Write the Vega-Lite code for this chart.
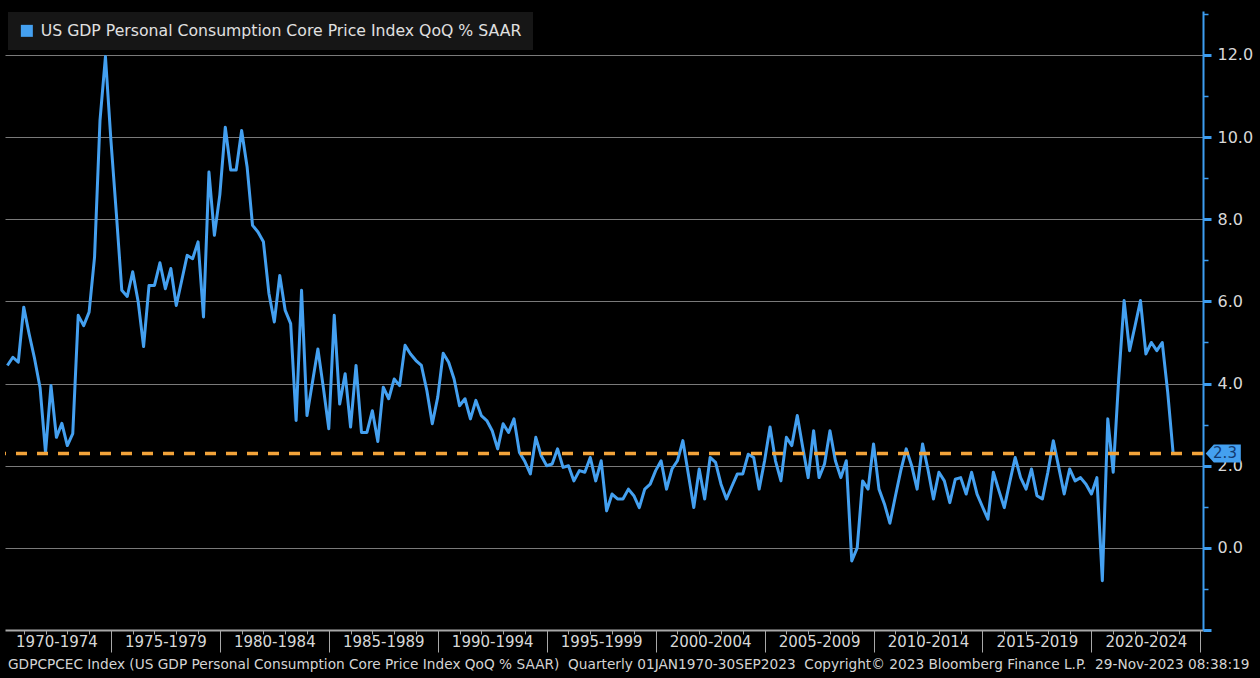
{
  "$schema": "https://vega.github.io/schema/vega-lite/v6.json",
  "width": 1198,
  "height": 619,
  "autosize": {"type": "none"},
  "padding": {"left": 5, "top": 11, "right": 57, "bottom": 48},
  "background": "#000000",
  "config": {"view": {"stroke": null}, "font": "DejaVu Sans"},
  "title": {
    "text": "GDPCPCEC Index (US GDP Personal Consumption Core Price Index QoQ % SAAR)\u00a0 Quarterly 01JAN1970-30SEP2023\u00a0 Copyright© 2023 Bloomberg Finance L.P.\u00a0 29-Nov-2023 08:38:19",
    "orient": "bottom",
    "anchor": "start",
    "frame": "group",
    "fontSize": 13.7,
    "fontWeight": "normal",
    "color": "#d4d4d4",
    "offset": -13,
    "dx": 3
  },
  "datasets": {
    "pce": [
      {"t":1970.25,"v":4.44},{"t":1970.5,"v":4.64},{"t":1970.75,"v":4.52},{"t":1971.0,"v":5.86},
      {"t":1971.25,"v":5.2},{"t":1971.5,"v":4.6},{"t":1971.75,"v":3.9},{"t":1972.0,"v":2.32},
      {"t":1972.25,"v":3.95},{"t":1972.5,"v":2.69},{"t":1972.75,"v":3.03},{"t":1973.0,"v":2.49},
      {"t":1973.25,"v":2.78},{"t":1973.5,"v":5.66},{"t":1973.75,"v":5.41},{"t":1974.0,"v":5.74},
      {"t":1974.25,"v":7.08},{"t":1974.5,"v":10.41},{"t":1974.75,"v":11.96},{"t":1975.0,"v":9.93},
      {"t":1975.25,"v":8.14},{"t":1975.5,"v":6.27},{"t":1975.75,"v":6.12},{"t":1976.0,"v":6.72},
      {"t":1976.25,"v":6.0},{"t":1976.5,"v":4.9},{"t":1976.75,"v":6.39},{"t":1977.0,"v":6.39},
      {"t":1977.25,"v":6.94},{"t":1977.5,"v":6.31},{"t":1977.75,"v":6.8},{"t":1978.0,"v":5.9},
      {"t":1978.25,"v":6.51},{"t":1978.5,"v":7.12},{"t":1978.75,"v":7.04},{"t":1979.0,"v":7.45},
      {"t":1979.25,"v":5.62},{"t":1979.5,"v":9.15},{"t":1979.75,"v":7.61},{"t":1980.0,"v":8.6},
      {"t":1980.25,"v":10.24},{"t":1980.5,"v":9.2},{"t":1980.75,"v":9.2},{"t":1981.0,"v":10.16},
      {"t":1981.25,"v":9.28},{"t":1981.5,"v":7.85},{"t":1981.75,"v":7.69},{"t":1982.0,"v":7.45},
      {"t":1982.25,"v":6.2},{"t":1982.5,"v":5.5},{"t":1982.75,"v":6.63},{"t":1983.0,"v":5.78},
      {"t":1983.25,"v":5.46},{"t":1983.5,"v":3.1},{"t":1983.75,"v":6.27},{"t":1984.0,"v":3.22},
      {"t":1984.25,"v":4.03},{"t":1984.5,"v":4.84},{"t":1984.75,"v":3.9},{"t":1985.0,"v":2.9},
      {"t":1985.25,"v":5.66},{"t":1985.5,"v":3.5},{"t":1985.75,"v":4.24},{"t":1986.0,"v":2.94},
      {"t":1986.25,"v":4.44},{"t":1986.5,"v":2.81},{"t":1986.75,"v":2.81},{"t":1987.0,"v":3.34},
      {"t":1987.25,"v":2.59},{"t":1987.5,"v":3.91},{"t":1987.75,"v":3.63},{"t":1988.0,"v":4.11},
      {"t":1988.25,"v":3.95},{"t":1988.5,"v":4.93},{"t":1988.75,"v":4.72},{"t":1989.0,"v":4.56},
      {"t":1989.25,"v":4.44},{"t":1989.5,"v":3.83},{"t":1989.75,"v":3.02},{"t":1990.0,"v":3.67},
      {"t":1990.25,"v":4.74},{"t":1990.5,"v":4.52},{"t":1990.75,"v":4.11},{"t":1991.0,"v":3.46},
      {"t":1991.25,"v":3.63},{"t":1991.5,"v":3.14},{"t":1991.75,"v":3.59},{"t":1992.0,"v":3.22},
      {"t":1992.25,"v":3.1},{"t":1992.5,"v":2.85},{"t":1992.75,"v":2.41},{"t":1993.0,"v":3.02},
      {"t":1993.25,"v":2.81},{"t":1993.5,"v":3.14},{"t":1993.75,"v":2.32},{"t":1994.0,"v":2.1},
      {"t":1994.25,"v":1.8},{"t":1994.5,"v":2.69},{"t":1994.75,"v":2.24},{"t":1995.0,"v":2.0},
      {"t":1995.25,"v":2.04},{"t":1995.5,"v":2.41},{"t":1995.75,"v":1.96},{"t":1996.0,"v":2.0},
      {"t":1996.25,"v":1.63},{"t":1996.5,"v":1.88},{"t":1996.75,"v":1.84},{"t":1997.0,"v":2.2},
      {"t":1997.25,"v":1.63},{"t":1997.5,"v":2.12},{"t":1997.75,"v":0.9},{"t":1998.0,"v":1.31},
      {"t":1998.25,"v":1.19},{"t":1998.5,"v":1.19},{"t":1998.75,"v":1.43},{"t":1999.0,"v":1.27},
      {"t":1999.25,"v":0.98},{"t":1999.5,"v":1.43},{"t":1999.75,"v":1.55},{"t":2000.0,"v":1.88},
      {"t":2000.25,"v":2.12},{"t":2000.5,"v":1.43},{"t":2000.75,"v":1.92},{"t":2001.0,"v":2.12},
      {"t":2001.25,"v":2.61},{"t":2001.5,"v":1.8},{"t":2001.75,"v":0.98},{"t":2002.0,"v":1.92},
      {"t":2002.25,"v":1.19},{"t":2002.5,"v":2.2},{"t":2002.75,"v":2.08},{"t":2003.0,"v":1.55},
      {"t":2003.25,"v":1.19},{"t":2003.5,"v":1.5},{"t":2003.75,"v":1.8},{"t":2004.0,"v":1.8},
      {"t":2004.25,"v":2.28},{"t":2004.5,"v":2.2},{"t":2004.75,"v":1.43},{"t":2005.0,"v":2.12},
      {"t":2005.25,"v":2.94},{"t":2005.5,"v":2.12},{"t":2005.75,"v":1.63},{"t":2006.0,"v":2.69},
      {"t":2006.25,"v":2.49},{"t":2006.5,"v":3.22},{"t":2006.75,"v":2.45},{"t":2007.0,"v":1.71},
      {"t":2007.25,"v":2.85},{"t":2007.5,"v":1.71},{"t":2007.75,"v":2.04},{"t":2008.0,"v":2.85},
      {"t":2008.25,"v":2.12},{"t":2008.5,"v":1.71},{"t":2008.75,"v":2.12},{"t":2009.0,"v":-0.32},
      {"t":2009.25,"v":0.0},{"t":2009.5,"v":1.63},{"t":2009.75,"v":1.43},{"t":2010.0,"v":2.53},
      {"t":2010.25,"v":1.43},{"t":2010.5,"v":1.07},{"t":2010.75,"v":0.6},{"t":2011.0,"v":1.25},
      {"t":2011.25,"v":1.88},{"t":2011.5,"v":2.41},{"t":2011.75,"v":2.0},{"t":2012.0,"v":1.43},
      {"t":2012.25,"v":2.53},{"t":2012.5,"v":1.9},{"t":2012.75,"v":1.19},{"t":2013.0,"v":1.84},
      {"t":2013.25,"v":1.63},{"t":2013.5,"v":1.1},{"t":2013.75,"v":1.67},{"t":2014.0,"v":1.71},
      {"t":2014.25,"v":1.31},{"t":2014.5,"v":1.84},{"t":2014.75,"v":1.31},{"t":2015.0,"v":1.0},
      {"t":2015.25,"v":0.7},{"t":2015.5,"v":1.84},{"t":2015.75,"v":1.4},{"t":2016.0,"v":0.98},
      {"t":2016.25,"v":1.6},{"t":2016.5,"v":2.2},{"t":2016.75,"v":1.71},{"t":2017.0,"v":1.43},
      {"t":2017.25,"v":1.92},{"t":2017.5,"v":1.27},{"t":2017.75,"v":1.19},{"t":2018.0,"v":1.84},
      {"t":2018.25,"v":2.61},{"t":2018.5,"v":1.96},{"t":2018.75,"v":1.31},{"t":2019.0,"v":1.92},
      {"t":2019.25,"v":1.63},{"t":2019.5,"v":1.71},{"t":2019.75,"v":1.55},{"t":2020.0,"v":1.31},
      {"t":2020.25,"v":1.71},{"t":2020.5,"v":-0.8},{"t":2020.75,"v":3.14},{"t":2021.0,"v":1.84},
      {"t":2021.25,"v":4.1},{"t":2021.5,"v":6.02},{"t":2021.75,"v":4.8},{"t":2022.0,"v":5.4},
      {"t":2022.25,"v":6.02},{"t":2022.5,"v":4.72},{"t":2022.75,"v":5.0},{"t":2023.0,"v":4.8},
      {"t":2023.25,"v":5.0},{"t":2023.5,"v":3.79},{"t":2023.75,"v":2.3}
    ],
    "ref": [{"v": 2.3, "label": "2.3"}]
  },
  "layer": [
    {
      "data": {"name": "pce"},
      "mark": {"type": "line", "strokeWidth": 3, "strokeJoin": "round"},
      "encoding": {
        "x": {
          "field": "t",
          "type": "quantitative",
          "scale": {"domain": [1970.14, 2025.12], "nice": false, "zero": false},
          "axis": {
            "orient": "bottom",
            "title": null,
            "grid": false,
            "values": [1971,1972,1973,1974,1975,1976,1977,1978,1979,1980,1981,1982,1983,1984,1985,1986,1987,1988,1989,1990,1991,1992,1993,1994,1995,1996,1997,1998,1999,2000,2001,2002,2003,2004,2005,2006,2007,2008,2009,2010,2011,2012,2013,2014,2015,2016,2017,2018,2019,2020,2021,2022,2023,2024,2025,1972.5,1977.5,1982.5,1987.5,1992.5,1997.5,2002.5,2007.5,2012.5,2017.5,2022.5],
            "domainColor": "#a8a8a8",
            "domainWidth": 2,
            "tickColor": "#a8a8a8",
            "tickWidth": 1,
            "tickSize": {"condition": [{"test": "datum.value % 5 == 0", "value": 22}, {"test": "datum.value % 1 != 0", "value": 0}], "value": 4},
            "labelExpr": "datum.value % 1 != 0 ? (floor(datum.value) - 2) + '-' + (floor(datum.value) + 2) : ''",
            "labelFontSize": 15,
            "labelColor": "#d8d8d8",
            "labelPadding": 4,
            "labelFlush": false,
            "labelOverlap": false,
            "labelBound": false
          }
        },
        "y": {
          "field": "v",
          "type": "quantitative",
          "scale": {"domain": [-2, 13.07], "nice": false, "zero": false},
          "axis": {
            "orient": "right",
            "title": null,
            "values": [-2,-1,0,1,2,3,4,5,6,7,8,9,10,11,12,13],
            "labelExpr": "datum.value >= 0 && datum.value % 2 == 0 ? format(datum.value, '.1f') : ''",
            "grid": true,
            "gridColor": "#7a7a7a",
            "gridWidth": 1,
            "gridOpacity": {"condition": {"test": "datum.value >= 0 && datum.value % 2 == 0", "value": 1}, "value": 0},
            "domainColor": "#3d9df0",
            "domainWidth": 2,
            "tickColor": "#3d9df0",
            "tickSize": {"condition": {"test": "datum.value % 2 == 0", "value": 8}, "value": 5},
            "tickWidth": {"condition": {"test": "datum.value % 2 == 0", "value": 3}, "value": 1.5},
            "labelFontSize": 16,
            "labelColor": "#d8d8d8",
            "labelPadding": 6,
            "labelFlush": false,
            "labelOverlap": false,
            "labelBound": false
          }
        },
        "color": {
          "datum": "US GDP Personal Consumption Core Price Index QoQ % SAAR",
          "scale": {"range": ["#44a0f0"]},
          "legend": {
            "orient": "none",
            "legendX": 3,
            "legendY": 1,
            "title": null,
            "symbolType": "square",
            "symbolSize": 144,
            "symbolFillColor": "#44a0f0",
            "symbolStrokeColor": "#44a0f0",
            "symbolStrokeWidth": 0,
            "labelFontSize": 15.7,
            "labelColor": "#e0e0e0",
            "labelLimit": 0,
            "labelOffset": 6,
            "fillColor": "#161616",
            "padding": 11
          }
        }
      }
    },
    {
      "data": {"name": "ref"},
      "mark": {"type": "rule", "color": "#f2a33a", "strokeWidth": 3.5, "strokeDash": [11, 10]},
      "encoding": {"y": {"field": "v", "type": "quantitative"}}
    },
    {
      "data": {"name": "ref"},
      "mark": {"type": "point", "shape": "M 0.3 0 L 1.2 -1 L 4.2 -1 L 4.2 1 L 1.2 1 Z", "size": 324, "filled": true, "color": "#44a0f0", "opacity": 1, "strokeWidth": 0},
      "encoding": {"x": {"value": "width"}, "y": {"field": "v", "type": "quantitative"}}
    },
    {
      "data": {"name": "ref"},
      "mark": {"type": "text", "align": "center", "baseline": "middle", "xOffset": 22, "fontSize": 15, "color": "#123a70"},
      "encoding": {"x": {"value": "width"}, "y": {"field": "v", "type": "quantitative"}, "text": {"field": "label"}}
    }
  ]
}
